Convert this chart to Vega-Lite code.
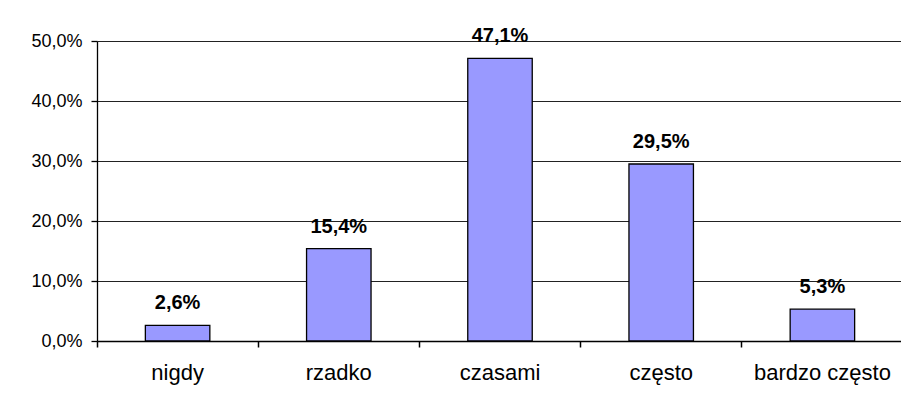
{
  "$schema": "https://vega.github.io/schema/vega-lite/v6.json",
  "width": 806,
  "height": 300,
  "autosize": {"type": "none"},
  "padding": {"left": 97, "top": 41, "right": 0, "bottom": 60},
  "background": "white",
  "config": {
    "font": "Liberation Sans",
    "locale": {"number": {"decimal": ",", "thousands": " ", "grouping": [3], "currency": ["", " zł"]}},
    "view": {"stroke": null},
    "axis": {"labelFont": "Liberation Sans", "labelColor": "#000", "domainColor": "#000", "tickColor": "#000", "gridColor": "#000", "domainWidth": 1.3, "tickWidth": 1.3}
  },
  "data": {
    "values": [
      {"kategoria": "nigdy", "wartosc": 0.026},
      {"kategoria": "rzadko", "wartosc": 0.154},
      {"kategoria": "czasami", "wartosc": 0.471},
      {"kategoria": "często", "wartosc": 0.295},
      {"kategoria": "bardzo często", "wartosc": 0.053}
    ]
  },
  "encoding": {
    "x": {
      "field": "kategoria",
      "type": "nominal",
      "sort": null,
      "scale": {"paddingInner": 0.6, "paddingOuter": 0.3},
      "axis": {"title": null, "labelAngle": 0, "labelFontSize": 22, "labelPadding": 15, "ticks": true, "tickSize": 6, "tickColor": "#000", "tickOpacity": 1, "tickWidth": 1.5, "bandPosition": -0.75, "grid": false}
    },
    "y": {
      "field": "wartosc",
      "type": "quantitative",
      "scale": {"domain": [0, 0.5], "nice": false},
      "axis": {"title": null, "values": [0, 0.1, 0.2, 0.3, 0.4, 0.5], "format": ".1%", "labelFontSize": 18, "labelPadding": 9, "tickSize": 6, "grid": true, "gridWidth": 1, "gridColor": "#222"}
    }
  },
  "layer": [
    {"mark": {"type": "bar", "color": "#9999FF", "stroke": "#000", "strokeWidth": 1.3}},
    {
      "mark": {"type": "text", "baseline": "alphabetic", "dy": -16, "fontSize": 20, "fontWeight": "bold", "color": "#000"},
      "encoding": {"text": {"field": "wartosc", "type": "quantitative", "format": ".1%"}}
    }
  ]
}
